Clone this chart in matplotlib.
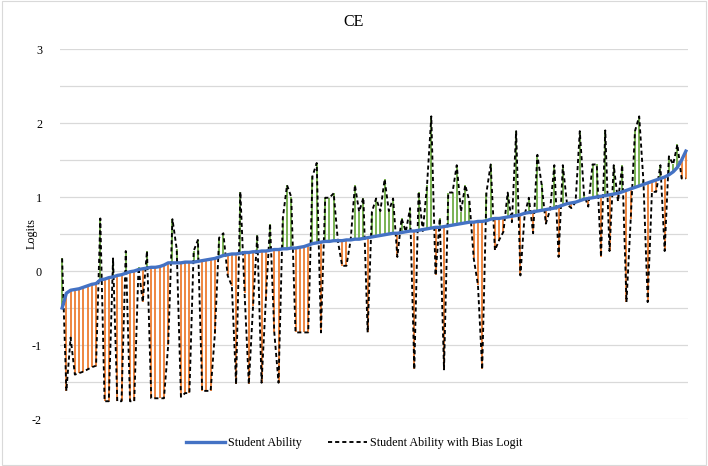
import matplotlib
matplotlib.use("Agg")
import matplotlib.pyplot as plt
from matplotlib.patches import Rectangle
import numpy as np

# student ability (sorted) and ability with bias logit, one value per student
ability = [
    -0.50, -0.30, -0.26, -0.25, -0.24, -0.22, -0.20, -0.18, -0.17, -0.12,
    -0.11, -0.09, -0.08, -0.06, -0.05, -0.03, -0.01, 0.00, 0.02, 0.03,
    0.04, 0.05, 0.05, 0.06, 0.08, 0.11, 0.11, 0.11, 0.11, 0.12,
    0.12, 0.12, 0.13, 0.14, 0.15, 0.16, 0.17, 0.19, 0.21, 0.22,
    0.23, 0.23, 0.24, 0.25, 0.25, 0.26, 0.26, 0.27, 0.27, 0.28,
    0.29, 0.29, 0.30, 0.30, 0.31, 0.31, 0.32, 0.33, 0.35, 0.37,
    0.38, 0.39, 0.40, 0.40, 0.41, 0.41, 0.41, 0.42, 0.42, 0.43,
    0.43, 0.44, 0.45, 0.46, 0.47, 0.48, 0.49, 0.50, 0.51, 0.51,
    0.52, 0.53, 0.54, 0.54, 0.55, 0.56, 0.57, 0.58, 0.59, 0.59,
    0.60, 0.61, 0.62, 0.63, 0.64, 0.65, 0.66, 0.66, 0.67, 0.67,
    0.68, 0.70, 0.71, 0.71, 0.72, 0.73, 0.74, 0.75, 0.76, 0.78,
    0.79, 0.80, 0.81, 0.82, 0.83, 0.84, 0.85, 0.87, 0.89, 0.91,
    0.92, 0.93, 0.95, 0.97, 0.98, 0.99, 1.00, 1.01, 1.02, 1.03,
    1.04, 1.05, 1.07, 1.09, 1.11, 1.13, 1.15, 1.17, 1.19, 1.21,
    1.23, 1.25, 1.27, 1.30, 1.34, 1.40, 1.50, 1.62,
]

bias = [
    0.17, -1.62, -0.90, -1.40, -1.38, -1.36, -1.33, -1.30, -1.28, 0.71,
    -1.76, -1.76, 0.17, -1.76, -1.76, 0.27, -1.76, -1.76, 0.05, -0.42,
    0.27, -1.72, -1.72, -1.72, -1.72, -1.00, 0.70, 0.30, -1.70, -1.65,
    -1.65, 0.27, 0.42, -1.62, -1.62, -1.62, -0.85, 0.45, 0.51, -0.06,
    -0.20, -1.53, 1.07, -0.30, -1.53, -0.47, 0.49, -1.51, -0.40, 0.64,
    -0.83, -1.51, 0.71, 1.16, 1.00, -0.83, -0.83, -0.83, -0.83, 1.28,
    1.46, -0.83, 0.99, 0.99, 1.05, 0.40, 0.07, 0.07, 0.42, 1.16,
    0.80, 0.99, -0.83, 0.80, 0.98, 0.81, 1.24, 0.81, 0.98, 0.19,
    0.71, 0.53, 0.85, -1.33, 1.07, 0.54, 1.16, 2.09, -0.06, 0.71,
    -1.33, 1.06, 1.06, 1.43, 0.80, 1.16, 0.94, 0.17, -0.19, -1.33,
    1.06, 1.44, 0.28, 0.42, 0.53, 1.06, 0.66, 1.89, -0.06, 0.76,
    0.99, 0.51, 1.57, 1.17, 0.64, 0.83, 1.43, 0.19, 1.43, 0.90,
    0.85, 0.93, 1.89, 1.03, 0.87, 1.44, 1.44, 0.19, 1.90, 0.27,
    1.43, 0.94, 1.43, -0.42, 0.70, 1.89, 2.09, 1.21, -0.42, 1.07,
    1.07, 1.43, 0.27, 1.55, 1.44, 1.71, 1.25, 1.25,
]

serif = ["Liberation Serif", "DejaVu Serif"]
plt.rcParams["font.family"] = serif

x = np.arange(len(ability))
ab = np.array(ability)
bi = np.array(bias)

fig = plt.figure(figsize=[7.08, 4.66], dpi=100)
ax = fig.add_axes([60/708, 1-419/466, 628/708, 370/466])

# chart border
fig.patches.append(Rectangle((0.003, 0.003), 0.994, 0.994, transform=fig.transFigure,
                             fill=False, edgecolor='#d9d9d9', linewidth=0.8))

up = bi > ab
ax.vlines(x[up], ab[up], bi[up], color='#70ad47', linewidth=1.3, zorder=2)
ax.vlines(x[~up], ab[~up], bi[~up], color='#ed7d31', linewidth=1.3, zorder=2)

ax.plot(x, bi, color='k', linewidth=1.35, linestyle=(0, (2.2, 1.6)), zorder=3,
        label='Student Ability with Bias Logit')
ax.plot(x, ab, color='#4472c4', linewidth=2.4, zorder=4, label='Student Ability')

ax.set_xlim(-0.5, len(ability)-0.5)
ax.set_ylim(-2, 3)
for g in np.arange(-2, 3.01, 0.5):
    ax.axhline(g, color='#d9d9d9', linewidth=0.9, zorder=0)
ax.set_yticks([-2, -1, 0, 1, 2, 3])
ax.set_yticklabels(['-2', '-1', '0', '1', '2', '3'], fontsize=8.7)
ax.tick_params(axis='y', length=0, pad=13)
ax.set_xticks([])
for s in ax.spines.values():
    s.set_visible(False)

ax.set_ylabel('Logits', fontsize=8.7)
ax.yaxis.set_label_coords(-0.036, 0.5)
fig.text(354/708, 1-22/466, 'CE', ha='center', va='center', fontsize=11.5)

h, l = ax.get_legend_handles_labels()
fig.legend(h[::-1], l[::-1], loc='center', bbox_to_anchor=(354/708, 1-443/466),
           ncol=2, frameon=False, fontsize=8.7, handlelength=3.2,
           columnspacing=2.2, handletextpad=0.25)

plt.savefig('out.png', dpi=100)
